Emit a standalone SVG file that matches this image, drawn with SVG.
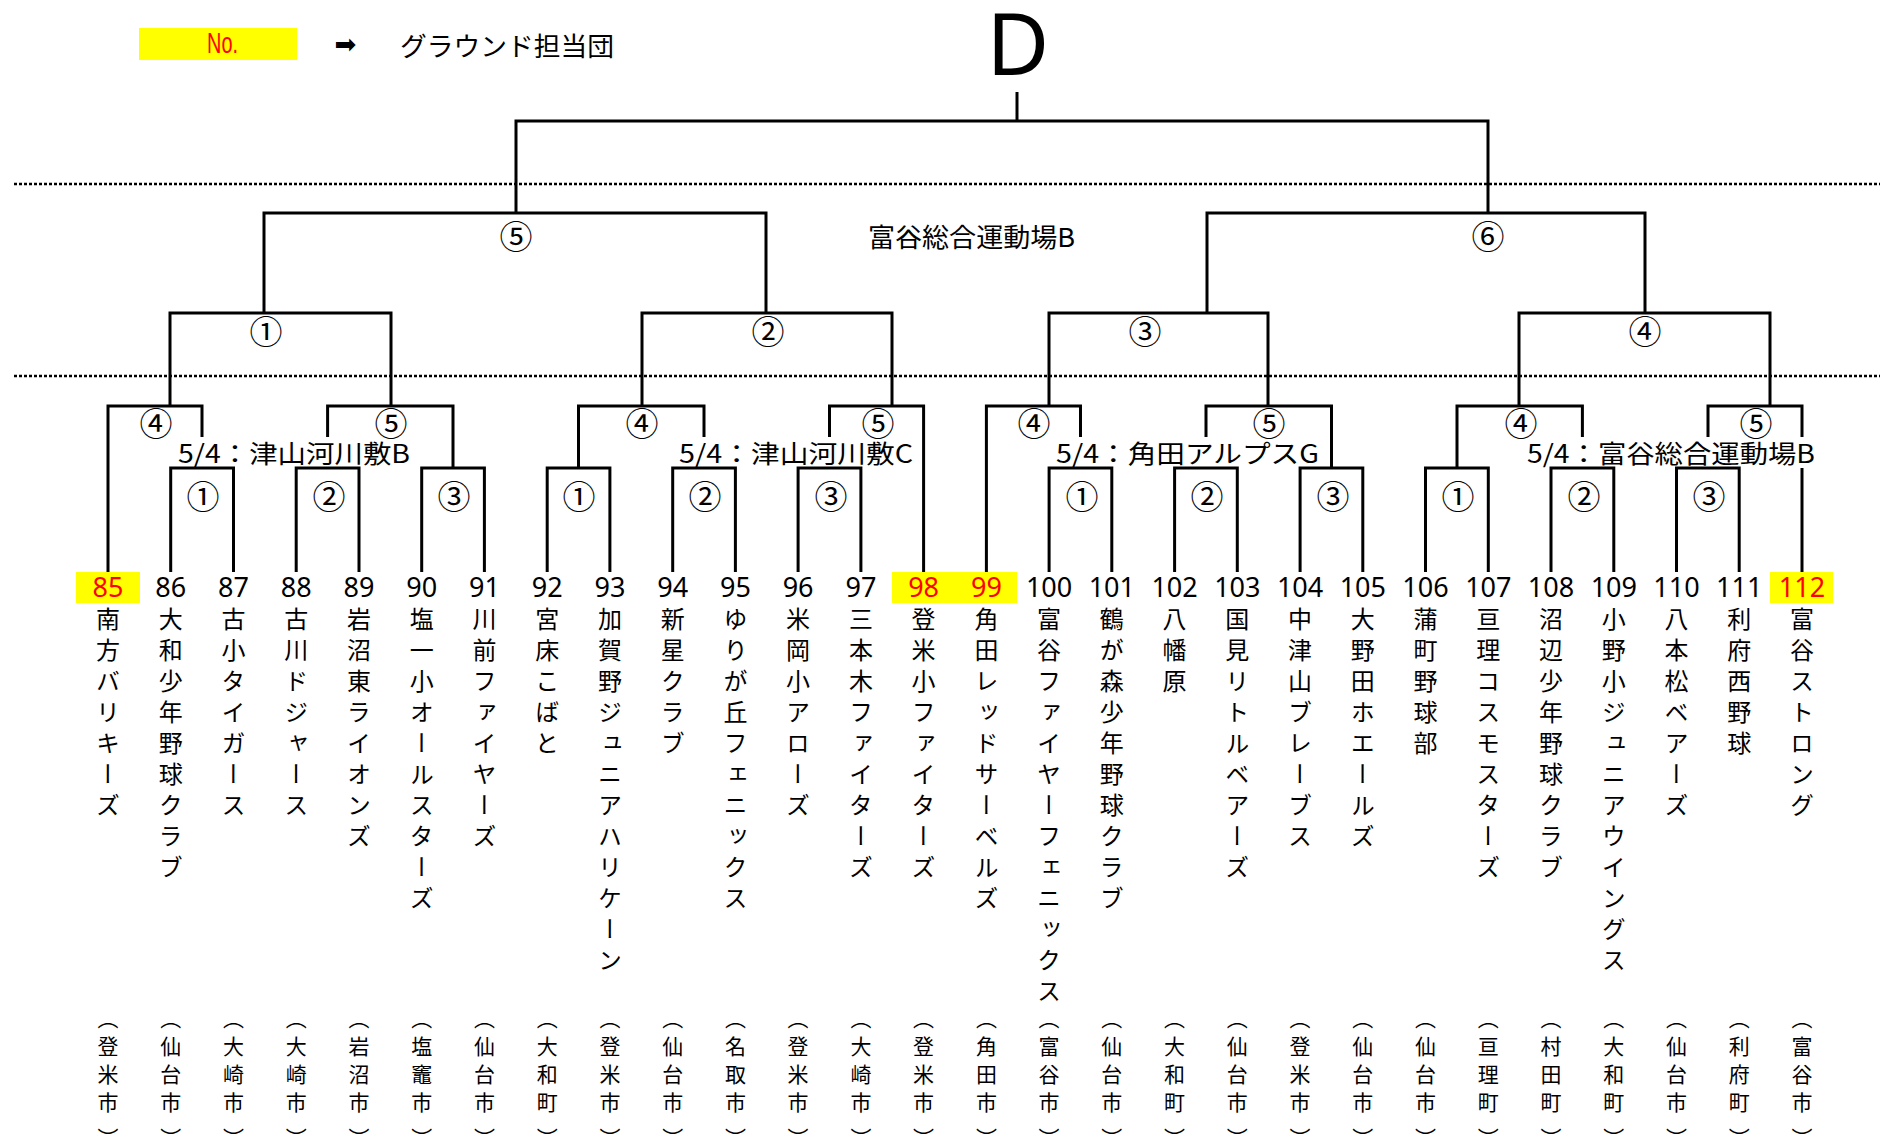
<svg xmlns="http://www.w3.org/2000/svg" width="1880" height="1140" viewBox="0 0 1880 1140">
<style>
.ln{fill:none;stroke:#000;stroke-width:3;stroke-linejoin:miter}
.dot{fill:none;stroke:#000;stroke-width:2.5;stroke-dasharray:3 2}
.cn{font-family:"Noto Sans CJK JP",sans-serif;font-size:33px;text-anchor:middle;dominant-baseline:central}
.lbl{font-family:"Noto Sans CJK JP",sans-serif;font-size:25px;dominant-baseline:central}
.num{font-family:"Noto Sans","Noto Sans CJK JP",sans-serif;font-size:27px;text-anchor:middle}
.red{fill:#ff0000}
.hl{fill:#ffff00}
.nm{font-family:"Noto Sans CJK JP",sans-serif;font-size:24px;writing-mode:vertical-rl;letter-spacing:7px}
.ct{font-family:"Noto Sans CJK JP",sans-serif;font-size:21px;writing-mode:vertical-rl;letter-spacing:7px}
</style>
<rect width="1880" height="1140" fill="#fff"/>
<g id="legend">
<rect class="hl" x="139" y="28" width="158" height="32"/>
<text x="207" y="53" textLength="31" lengthAdjust="spacingAndGlyphs" style="font-family:'Liberation Sans',sans-serif;font-size:29px" class="red">No.</text>
<text x="345.5" y="53" style="font-family:'DejaVu Sans',sans-serif;font-size:26px" text-anchor="middle">➡</text>
<text x="400" y="44" class="lbl" style="font-size:26px" textLength="214" lengthAdjust="spacingAndGlyphs">グラウンド担当団</text>
</g>
<g id="title"><text x="1018" y="75" text-anchor="middle" style="font-family:'Noto Sans',sans-serif;font-size:86px">D</text></g>
<g id="dividers">
<line class="dot" x1="14" y1="184" x2="1880" y2="184"/>
<line class="dot" x1="14" y1="376" x2="1880" y2="376"/>
</g>
<g id="connectors">
<path class="ln" d="M1017 92V121"/>
<path class="ln" d="M516 213V121H1488V213"/>
<path class="ln" d="M264 313V213H766V313"/>
<path class="ln" d="M1207 313V213H1645V313"/>
<path class="ln" d="M170 406V313H391V406"/>
<path class="ln" d="M642 406V313H892V406"/>
<path class="ln" d="M1049 406V313H1268V406"/>
<path class="ln" d="M1519 406V313H1770V406"/>
<path class="ln" d="M108 572V406H202V437"/>
<path class="ln" d="M170.7 572V468H233.5V572"/>
<path class="ln" d="M327.6 437V406H453V468"/>
<path class="ln" d="M296.2 572V468H359V572"/>
<path class="ln" d="M421.7 572V468H484.4V572"/>
<path class="ln" d="M578.5 468V406H704V437"/>
<path class="ln" d="M547.2 572V468H609.9V572"/>
<path class="ln" d="M672.7 572V468H735.4V572"/>
<path class="ln" d="M829.5 437V406H923.6V572"/>
<path class="ln" d="M798.1 572V468H860.9V572"/>
<path class="ln" d="M986.4 572V406H1080.5V437"/>
<path class="ln" d="M1049.1 572V468H1111.8V572"/>
<path class="ln" d="M1206 437V406H1331.5V468"/>
<path class="ln" d="M1174.6 572V468H1237.3V572"/>
<path class="ln" d="M1300.1 572V468H1362.8V572"/>
<path class="ln" d="M1457 468V406H1582.4V437"/>
<path class="ln" d="M1425.5 572V468H1488.3V572"/>
<path class="ln" d="M1551 572V468H1613.8V572"/>
<path class="ln" d="M1708 437V406H1802V437"/>
<path class="ln" d="M1802 468V572"/>
<path class="ln" d="M1676.5 572V468H1739.2V572"/>
</g>
<g id="match-labels">
<text class="cn" x="516" y="235">⑤</text>
<text class="cn" x="1488" y="235">⑥</text>
<text class="lbl" x="868" y="235" style="font-size:26px" textLength="207" lengthAdjust="spacingAndGlyphs">富谷総合運動場B</text>
<text class="cn" x="266" y="330">①</text>
<text class="cn" x="768" y="330">②</text>
<text class="cn" x="1145" y="330">③</text>
<text class="cn" x="1645" y="330">④</text>
<text class="cn" x="156" y="422">④</text>
<text class="cn" x="391" y="422">⑤</text>
<text class="cn" x="642" y="422">④</text>
<text class="cn" x="878" y="422">⑤</text>
<text class="cn" x="1034" y="422">④</text>
<text class="cn" x="1269" y="422">⑤</text>
<text class="cn" x="1521" y="422">④</text>
<text class="cn" x="1756" y="422">⑤</text>
<text class="lbl" x="178" y="452" textLength="232" lengthAdjust="spacingAndGlyphs">5/4：津山河川敷B</text>
<text class="lbl" x="679" y="452" textLength="234" lengthAdjust="spacingAndGlyphs">5/4：津山河川敷C</text>
<text class="lbl" x="1056" y="452" textLength="263" lengthAdjust="spacingAndGlyphs">5/4：角田アルプスG</text>
<text class="lbl" x="1527" y="452" textLength="288" lengthAdjust="spacingAndGlyphs">5/4：富谷総合運動場B</text>
<text class="cn" x="203" y="495">①</text>
<text class="cn" x="329" y="495">②</text>
<text class="cn" x="454" y="495">③</text>
<text class="cn" x="579" y="495">①</text>
<text class="cn" x="705" y="495">②</text>
<text class="cn" x="831" y="495">③</text>
<text class="cn" x="1082" y="495">①</text>
<text class="cn" x="1207" y="495">②</text>
<text class="cn" x="1333" y="495">③</text>
<text class="cn" x="1458" y="495">①</text>
<text class="cn" x="1584" y="495">②</text>
<text class="cn" x="1709" y="495">③</text>
</g>
<g id="highlights">
<rect class="hl" x="76" y="572" width="64" height="31"/>
<rect class="hl" x="892" y="572" width="125" height="31"/>
<rect class="hl" x="1770" y="572" width="63" height="31"/>
</g>
<g id="team-85"><text class="num red" x="108" y="597">85</text><text class="nm" x="108" y="607">南方バリキーズ</text><text class="ct" x="108" y="1008">（登米市<tspan dy="8">）</tspan></text></g>
<g id="team-86"><text class="num" x="170.7" y="597">86</text><text class="nm" x="170.7" y="607">大和少年野球クラブ</text><text class="ct" x="170.7" y="1008">（仙台市<tspan dy="8">）</tspan></text></g>
<g id="team-87"><text class="num" x="233.5" y="597">87</text><text class="nm" x="233.5" y="607">古小タイガース</text><text class="ct" x="233.5" y="1008">（大崎市<tspan dy="8">）</tspan></text></g>
<g id="team-88"><text class="num" x="296.2" y="597">88</text><text class="nm" x="296.2" y="607">古川ドジャース</text><text class="ct" x="296.2" y="1008">（大崎市<tspan dy="8">）</tspan></text></g>
<g id="team-89"><text class="num" x="359" y="597">89</text><text class="nm" x="359" y="607">岩沼東ライオンズ</text><text class="ct" x="359" y="1008">（岩沼市<tspan dy="8">）</tspan></text></g>
<g id="team-90"><text class="num" x="421.7" y="597">90</text><text class="nm" x="421.7" y="607">塩一小オールスターズ</text><text class="ct" x="421.7" y="1008">（塩竈市<tspan dy="8">）</tspan></text></g>
<g id="team-91"><text class="num" x="484.4" y="597">91</text><text class="nm" x="484.4" y="607">川前ファイヤーズ</text><text class="ct" x="484.4" y="1008">（仙台市<tspan dy="8">）</tspan></text></g>
<g id="team-92"><text class="num" x="547.2" y="597">92</text><text class="nm" x="547.2" y="607">宮床こばと</text><text class="ct" x="547.2" y="1008">（大和町<tspan dy="8">）</tspan></text></g>
<g id="team-93"><text class="num" x="609.9" y="597">93</text><text class="nm" x="609.9" y="607">加賀野ジュニアハリケーン</text><text class="ct" x="609.9" y="1008">（登米市<tspan dy="8">）</tspan></text></g>
<g id="team-94"><text class="num" x="672.7" y="597">94</text><text class="nm" x="672.7" y="607">新星クラブ</text><text class="ct" x="672.7" y="1008">（仙台市<tspan dy="8">）</tspan></text></g>
<g id="team-95"><text class="num" x="735.4" y="597">95</text><text class="nm" x="735.4" y="607">ゆりが丘フェニックス</text><text class="ct" x="735.4" y="1008">（名取市<tspan dy="8">）</tspan></text></g>
<g id="team-96"><text class="num" x="798.1" y="597">96</text><text class="nm" x="798.1" y="607">米岡小アローズ</text><text class="ct" x="798.1" y="1008">（登米市<tspan dy="8">）</tspan></text></g>
<g id="team-97"><text class="num" x="860.9" y="597">97</text><text class="nm" x="860.9" y="607">三本木ファイターズ</text><text class="ct" x="860.9" y="1008">（大崎市<tspan dy="8">）</tspan></text></g>
<g id="team-98"><text class="num red" x="923.6" y="597">98</text><text class="nm" x="923.6" y="607">登米小ファイターズ</text><text class="ct" x="923.6" y="1008">（登米市<tspan dy="8">）</tspan></text></g>
<g id="team-99"><text class="num red" x="986.4" y="597">99</text><text class="nm" x="986.4" y="607">角田レッドサーベルズ</text><text class="ct" x="986.4" y="1008">（角田市<tspan dy="8">）</tspan></text></g>
<g id="team-100"><text class="num" x="1049.1" y="597">100</text><text class="nm" x="1049.1" y="607">富谷ファイヤーフェニックス</text><text class="ct" x="1049.1" y="1008">（富谷市<tspan dy="8">）</tspan></text></g>
<g id="team-101"><text class="num" x="1111.8" y="597">101</text><text class="nm" x="1111.8" y="607">鶴が森少年野球クラブ</text><text class="ct" x="1111.8" y="1008">（仙台市<tspan dy="8">）</tspan></text></g>
<g id="team-102"><text class="num" x="1174.6" y="597">102</text><text class="nm" x="1174.6" y="607">八幡原</text><text class="ct" x="1174.6" y="1008">（大和町<tspan dy="8">）</tspan></text></g>
<g id="team-103"><text class="num" x="1237.3" y="597">103</text><text class="nm" x="1237.3" y="607">国見リトルベアーズ</text><text class="ct" x="1237.3" y="1008">（仙台市<tspan dy="8">）</tspan></text></g>
<g id="team-104"><text class="num" x="1300.1" y="597">104</text><text class="nm" x="1300.1" y="607">中津山ブレーブス</text><text class="ct" x="1300.1" y="1008">（登米市<tspan dy="8">）</tspan></text></g>
<g id="team-105"><text class="num" x="1362.8" y="597">105</text><text class="nm" x="1362.8" y="607">大野田ホエールズ</text><text class="ct" x="1362.8" y="1008">（仙台市<tspan dy="8">）</tspan></text></g>
<g id="team-106"><text class="num" x="1425.5" y="597">106</text><text class="nm" x="1425.5" y="607">蒲町野球部</text><text class="ct" x="1425.5" y="1008">（仙台市<tspan dy="8">）</tspan></text></g>
<g id="team-107"><text class="num" x="1488.3" y="597">107</text><text class="nm" x="1488.3" y="607">亘理コスモスターズ</text><text class="ct" x="1488.3" y="1008">（亘理町<tspan dy="8">）</tspan></text></g>
<g id="team-108"><text class="num" x="1551" y="597">108</text><text class="nm" x="1551" y="607">沼辺少年野球クラブ</text><text class="ct" x="1551" y="1008">（村田町<tspan dy="8">）</tspan></text></g>
<g id="team-109"><text class="num" x="1613.8" y="597">109</text><text class="nm" x="1613.8" y="607">小野小ジュニアウイングス</text><text class="ct" x="1613.8" y="1008">（大和町<tspan dy="8">）</tspan></text></g>
<g id="team-110"><text class="num" x="1676.5" y="597">110</text><text class="nm" x="1676.5" y="607">八本松ベアーズ</text><text class="ct" x="1676.5" y="1008">（仙台市<tspan dy="8">）</tspan></text></g>
<g id="team-111"><text class="num" x="1739.2" y="597">111</text><text class="nm" x="1739.2" y="607">利府西野球</text><text class="ct" x="1739.2" y="1008">（利府町<tspan dy="8">）</tspan></text></g>
<g id="team-112"><text class="num red" x="1802" y="597">112</text><text class="nm" x="1802" y="607">富谷ストロング</text><text class="ct" x="1802" y="1008">（富谷市<tspan dy="8">）</tspan></text></g>
</svg>
